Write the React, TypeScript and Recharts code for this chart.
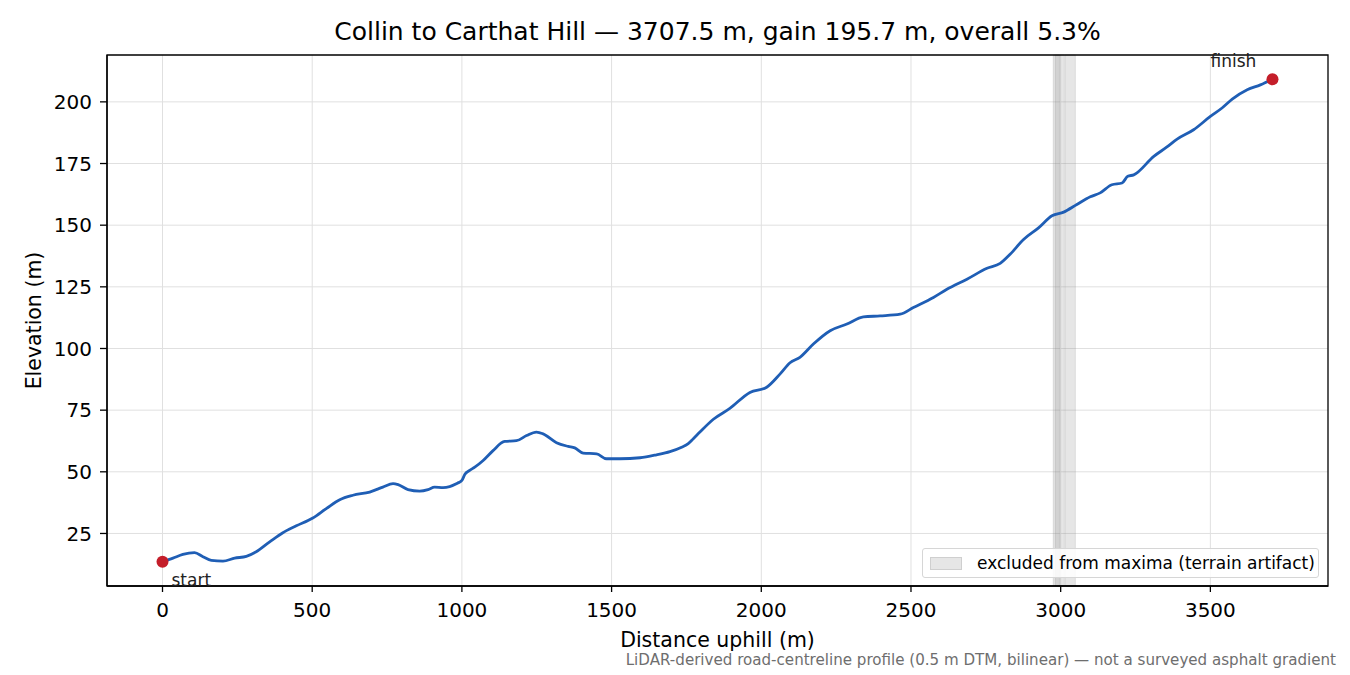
import React from 'react';
import {
    LineChart,
    Line,
    XAxis,
    YAxis,
    CartesianGrid,
    ReferenceArea,
    ReferenceDot,
} from 'recharts';

// distance along the road (m) and elevation (m)
const DISTANCES = [
    0, 35, 68, 107, 135, 163, 202, 241, 280, 313, 358, 402, 447, 502, 547, 592, 636, 692, 736, 770,
    787, 820, 859, 887, 909, 937, 985, 1000, 1010, 1026, 1043, 1071, 1104, 1143, 1182, 1216, 1249, 1271,
    1316, 1355, 1377, 1405, 1450, 1483, 1528, 1595, 1650, 1695, 1734, 1756, 1773, 1795, 1840, 1895,
    1962, 2018, 2063, 2096, 2129, 2174, 2230, 2286, 2341, 2397, 2464, 2508, 2575, 2620, 2687, 2754,
    2798, 2831, 2876, 2926, 2971, 3010, 3054, 3099, 3132, 3171, 3205, 3224, 3244, 3311, 3355, 3389,
    3444, 3500, 3539, 3573, 3623, 3667, 3707.5,
];
const ELEVATIONS = [
    13.5, 15.0, 16.5, 17.2, 15.6, 14.1, 13.8, 15.0, 15.7, 17.6, 21.6, 25.3, 28.1, 31.3, 35.1, 38.7, 40.5, 41.8, 43.8, 45.2,
    44.8, 42.8, 42.2, 42.8, 43.8, 43.6, 45.4, 46.5, 49.0, 50.6, 51.9, 54.6, 58.6, 62.3, 62.6, 64.7, 66.1, 65.4,
    61.8, 60.3, 59.7, 57.6, 57.3, 55.3, 55.3, 55.7, 56.9, 58.2, 60.0, 61.4, 63.4, 66.1, 71.3, 75.7,
    82.2, 84.3, 89.7, 94.2, 96.4, 101.8, 107.2, 109.9, 112.8, 113.2, 113.9, 116.6, 120.7, 124.0, 128.1, 132.5,
    134.5, 138.2, 144.2, 148.9, 153.8, 155.3, 158.4, 161.5, 163.1, 166.4, 167.1, 169.8, 170.4, 177.9, 181.7, 184.9,
    188.7, 194.1, 197.5, 201.1, 204.9, 206.9, 209.2,
];

// excluded stretches (terrain artifact), m
const BAND_STARTS = [2975, 2982, 3015];
const BAND_ENDS = [3012, 2996, 3049];

const X_TICKS = [0, 500, 1000, 1500, 2000, 2500, 3000, 3500];
const Y_TICKS = [25, 50, 75, 100, 125, 150, 175, 200];
const X_DOMAIN = [-185.4, 3892.9];
const Y_DOMAIN = [3.7, 219.0];

const TITLE = 'Collin to Carthat Hill \u2014 3707.5 m, gain 195.7 m, overall 5.3%';
const FOOTNOTE = 'LiDAR-derived road-centreline profile (0.5 m DTM, bilinear) \u2014 not a surveyed asphalt gradient';

const FONT = '"DejaVu Sans", sans-serif';

const data = DISTANCES.map((d, i) => ({ dist: d, elev: ELEVATIONS[i] }));
const first = data[0];
const last = data[data.length - 1];
const DOT_R = 6;

export default function App() {
    const tickStyle = { fill: '#000', fontSize: 20, fontFamily: FONT };

    return (
        <div style={{ position: 'fixed', left: 0, top: 0, width: 1350, height: 675, background: '#fff', fontFamily: FONT }}>
            <div style={{ position: 'absolute', left: 107, width: 1221, top: 17, textAlign: 'center', fontSize: 25, color: '#000', whiteSpace: 'nowrap' }}>
                {TITLE}
            </div>

            <LineChart
                width={1350}
                height={675}
                data={data}
                margin={{ top: 55, right: 22, bottom: 59, left: 47 }}
            >
                <CartesianGrid stroke="#e0e0e0" strokeWidth={1} verticalValues={X_TICKS} horizontalValues={Y_TICKS} />
                {BAND_STARTS.map((s, i) => (
                    <ReferenceArea
                        key={s}
                        x1={s}
                        x2={BAND_ENDS[i]}
                        fill="#808080"
                        fillOpacity={0.2}
                        stroke="#808080"
                        strokeOpacity={0.2}
                        strokeWidth={1}
                    />
                ))}
                <XAxis
                    dataKey="dist"
                    type="number"
                    domain={X_DOMAIN}
                    ticks={X_TICKS}
                    allowDataOverflow
                    height={30}
                    tickSize={6}
                    tickMargin={11}
                    tick={tickStyle}
                    axisLine={{ stroke: '#000', strokeWidth: 1.3 }}
                    tickLine={{ stroke: '#000', strokeWidth: 1.3 }}
                    label={{ value: 'Distance uphill (m)', position: 'insideBottom', offset: -31, fill: '#000', fontSize: 20.5, fontFamily: FONT }}
                />
                <YAxis
                    type="number"
                    domain={Y_DOMAIN}
                    ticks={Y_TICKS}
                    allowDataOverflow
                    width={60}
                    tickSize={7}
                    tickMargin={8}
                    tick={tickStyle}
                    axisLine={{ stroke: '#000', strokeWidth: 1.3 }}
                    tickLine={{ stroke: '#000', strokeWidth: 1.3 }}
                    label={{ value: 'Elevation (m)', angle: -90, position: 'insideLeft', offset: -13, fill: '#000', fontSize: 20.5, fontFamily: FONT, style: { textAnchor: 'middle' } }}
                />
                {/* axes frame */}
                <ReferenceArea
                    x1={X_DOMAIN[0]}
                    x2={X_DOMAIN[1]}
                    y1={Y_DOMAIN[0]}
                    y2={Y_DOMAIN[1]}
                    fill="none"
                    stroke="#000"
                    strokeWidth={1.3}
                    ifOverflow="visible"
                />
                <Line
                    type="monotone"
                    dataKey="elev"
                    stroke="#1f5eb5"
                    strokeWidth={2.8}
                    dot={false}
                    isAnimationActive={false}
                />
                <ReferenceDot
                    x={first.dist}
                    y={first.elev}
                    r={DOT_R}
                    fill="#c41e2a"
                    stroke="none"
                    label={(p: any) => (
                        <text x={p.viewBox.x + DOT_R + 9} y={p.viewBox.y + DOT_R + 24} fontSize={17} fontFamily={FONT} fill="#222">start</text>
                    )}
                />
                <ReferenceDot
                    x={last.dist}
                    y={last.elev}
                    r={DOT_R}
                    fill="#c41e2a"
                    stroke="none"
                    label={(p: any) => (
                        <text x={p.viewBox.x + DOT_R - 62} y={p.viewBox.y + DOT_R - 12} fontSize={17} fontFamily={FONT} fill="#222">finish</text>
                    )}
                />
            </LineChart>

            {/* legend */}
            <div
                style={{
                    position: 'absolute',
                    left: 922,
                    top: 548,
                    width: 397,
                    height: 30,
                    boxSizing: 'border-box',
                    border: '1px solid #d6d6d6',
                    borderRadius: 3,
                    background: 'rgba(255,255,255,0.85)',
                    display: 'flex',
                    alignItems: 'center',
                    fontSize: 17,
                    color: '#000',
                    whiteSpace: 'nowrap',
                }}
            >
                <span style={{ display: 'inline-block', width: 32, height: 13, marginLeft: 7, marginRight: 15, background: '#e6e6e6', border: '1px solid #cfcfcf', boxSizing: 'border-box' }} />
                excluded from maxima (terrain artifact)
            </div>

            <div style={{ position: 'absolute', right: 14, top: 653, fontSize: 15.1, lineHeight: 1, color: '#6e6e6e', whiteSpace: 'nowrap' }}>
                {FOOTNOTE}
            </div>
        </div>
    );
}
